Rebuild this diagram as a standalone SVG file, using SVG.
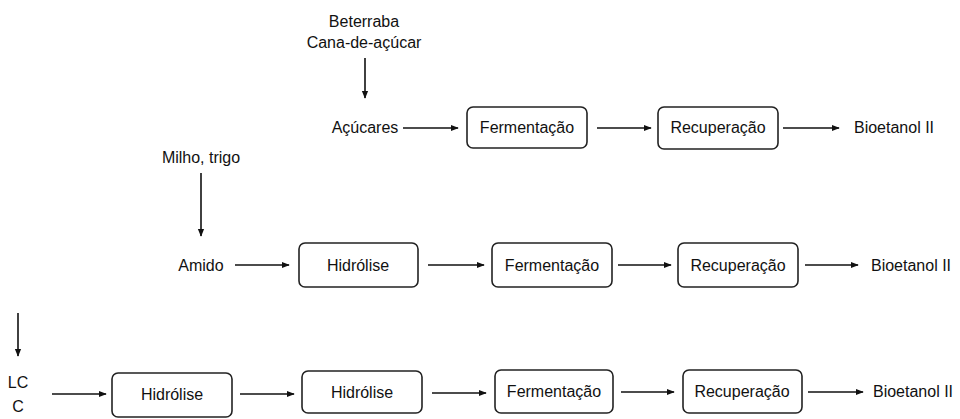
<svg xmlns="http://www.w3.org/2000/svg" width="960" height="419" viewBox="0 0 960 419">
<defs>
<marker id="ah" viewBox="0 0 10 10" refX="9" refY="5" markerWidth="5" markerHeight="5" orient="auto" markerUnits="strokeWidth">
<path d="M0,1 L10,5 L0,9 Z" fill="#111"/>
</marker>
<style>
.box{fill:#fff;stroke:#222;stroke-width:1.6}
.t{font-family:"Liberation Sans",Arial,sans-serif;font-size:16px;fill:#111;text-anchor:middle}
.c{stroke:#111;stroke-width:1.6;fill:none;marker-end:url(#ah)}
</style>
</defs>
<rect width="960" height="419" fill="#fff"/>
<g id="connectors">
<line class="c" x1="365" y1="58" x2="365" y2="98"/>
<line class="c" x1="403" y1="128" x2="458" y2="128"/>
<line class="c" x1="597" y1="128" x2="651" y2="128"/>
<line class="c" x1="783" y1="128" x2="839" y2="128"/>
<line class="c" x1="201" y1="173" x2="201" y2="236"/>
<line class="c" x1="235" y1="265" x2="289" y2="265"/>
<line class="c" x1="428" y1="265" x2="484" y2="265"/>
<line class="c" x1="618" y1="265" x2="671" y2="265"/>
<line class="c" x1="805" y1="265" x2="858" y2="265"/>
<line class="c" x1="18" y1="313" x2="18" y2="356"/>
<line class="c" x1="52" y1="394" x2="106" y2="394"/>
<line class="c" x1="240" y1="394" x2="294" y2="394"/>
<line class="c" x1="432" y1="393" x2="486" y2="393"/>
<line class="c" x1="621" y1="392" x2="674" y2="392"/>
<line class="c" x1="808" y1="392" x2="863" y2="392"/>
</g>
<g id="src1"><text class="t" x="364" y="27">Beterraba</text><text class="t" x="364" y="48">Cana-de-açúcar</text></g>
<g id="acucares"><text class="t" x="365" y="133">Açúcares</text></g>
<g id="ferm1"><rect class="box" x="467" y="107" width="120" height="41" rx="6"/><text class="t" x="527" y="133">Fermentação</text></g>
<g id="rec1"><rect class="box" x="658" y="107" width="120" height="42" rx="6"/><text class="t" x="718" y="133">Recuperação</text></g>
<g id="bio1"><text class="t" x="894" y="133">Bioetanol II</text></g>
<g id="src2"><text class="t" x="201" y="163">Milho, trigo</text></g>
<g id="amido"><text class="t" x="201" y="271">Amido</text></g>
<g id="hid2"><rect class="box" x="299" y="243" width="119" height="44" rx="6"/><text class="t" x="358" y="271">Hidrólise</text></g>
<g id="ferm2"><rect class="box" x="492" y="243" width="120" height="44" rx="6"/><text class="t" x="552" y="271">Fermentação</text></g>
<g id="rec2"><rect class="box" x="678" y="243" width="120" height="44" rx="6"/><text class="t" x="738" y="271">Recuperação</text></g>
<g id="bio2"><text class="t" x="911" y="271">Bioetanol II</text></g>
<g id="lcc"><text class="t" x="18" y="388">LC</text><text class="t" x="18" y="412">C</text></g>
<g id="hid3a"><rect class="box" x="112" y="373" width="120" height="44" rx="6"/><text class="t" x="172" y="400">Hidrólise</text></g>
<g id="hid3b"><rect class="box" x="302" y="371" width="120" height="42" rx="6"/><text class="t" x="362" y="398">Hidrólise</text></g>
<g id="ferm3"><rect class="box" x="495" y="370" width="118" height="43" rx="6"/><text class="t" x="554" y="397">Fermentação</text></g>
<g id="rec3"><rect class="box" x="683" y="370" width="119" height="43" rx="6"/><text class="t" x="742" y="397">Recuperação</text></g>
<g id="bio3"><text class="t" x="913" y="397">Bioetanol II</text></g>
</svg>
